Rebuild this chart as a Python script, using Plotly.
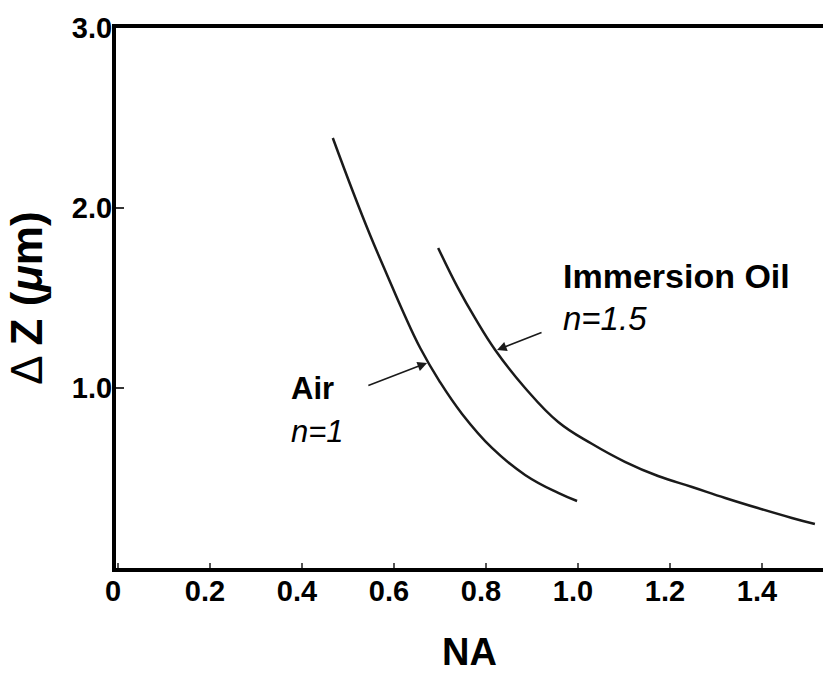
import plotly.graph_objects as go

# ---- data ----
air_na = [0.467, 0.511, 0.548, 0.585, 0.620, 0.657, 0.700, 0.748, 0.813, 0.885, 0.957, 0.998]
air_dz = [2.389, 2.089, 1.850, 1.628, 1.422, 1.222, 1.033, 0.856, 0.667, 0.517, 0.417, 0.372]

oil_na = [0.696, 0.739, 0.776, 0.820, 0.885, 0.957, 1.030, 1.102, 1.174, 1.248, 1.320, 1.391, 1.465, 1.515]
oil_dz = [1.778, 1.556, 1.389, 1.211, 1.000, 0.811, 0.690, 0.590, 0.511, 0.450, 0.389, 0.333, 0.278, 0.244]

x_ticks = [0, 0.2, 0.4, 0.6, 0.8, 1.0, 1.2, 1.4]
x_ticktext = ["<b>%s</b>" % t for t in ["0", "0.2", "0.4", "0.6", "0.8", "1.0", "1.2", "1.4"]]
y_ticks = [1.0, 2.0, 3.0]
y_ticktext = ["<b>%s</b>" % t for t in ["1.0", "2.0", "3.0"]]

FONT = "Liberation Sans, Arial, Helvetica, sans-serif"
LINE = "#1a1a1a"

fig = go.Figure()
fig.add_trace(go.Scatter(x=air_na, y=air_dz, mode="lines", name="Air",
                         line=dict(color=LINE, width=2.5, shape="spline", smoothing=1.2)))
fig.add_trace(go.Scatter(x=oil_na, y=oil_dz, mode="lines", name="Immersion Oil",
                         line=dict(color=LINE, width=2.5, shape="spline", smoothing=1.2)))

annos = [
    dict(x=0.372, y=1.0, text="<b>Air</b>", xanchor="left", yanchor="middle",
         showarrow=False, font=dict(size=31)),
    dict(x=0.372, y=0.76, text="<i>n=1</i>", xanchor="left", yanchor="middle",
         showarrow=False, font=dict(size=31)),
    dict(x=0.963, y=1.62, text="<b>Immersion Oil</b>", xanchor="left", yanchor="middle",
         showarrow=False, font=dict(size=34)),
    dict(x=0.963, y=1.385, text="<i>n=1.5</i>", xanchor="left", yanchor="middle",
         showarrow=False, font=dict(size=33)),
    # arrows
    dict(x=0.672, y=1.139, ax=0.541, ay=1.011, axref="x", ayref="y", text="",
         showarrow=True, arrowhead=2, arrowsize=1.2, arrowwidth=1.6, arrowcolor=LINE),
    dict(x=0.824, y=1.211, ax=0.924, ay=1.311, axref="x", ayref="y", text="",
         showarrow=True, arrowhead=2, arrowsize=1.2, arrowwidth=1.6, arrowcolor=LINE),
]

fig.update_layout(
    width=823, height=673,
    margin=dict(l=116, r=0, t=28, b=105),
    paper_bgcolor="white", plot_bgcolor="white",
    showlegend=False,
    font=dict(family=FONT, color="black"),
    annotations=annos,
    xaxis=dict(
        range=[-0.0043, 1.5326], showgrid=False, zeroline=False,
        showline=True, linewidth=4, linecolor="black", mirror=True,
        ticks="inside", ticklen=5, tickwidth=2, tickcolor="#555",
        tickvals=x_ticks, ticktext=x_ticktext,
        tickfont=dict(size=29, family=FONT), ticklabelshift=-5, ticklabelstandoff=-6,
        title=dict(text="<b>NA</b>", font=dict(size=38, family=FONT), standoff=34),
    ),
    yaxis=dict(
        range=[0, 3.0], showgrid=False, zeroline=False,
        showline=True, linewidth=4, linecolor="black",
        ticks="inside", ticklen=8, tickwidth=2, tickcolor="#333",
        tickvals=y_ticks, ticktext=y_ticktext,
        tickfont=dict(size=29, family=FONT), ticklabelstandoff=-6,
        title=dict(text="Δ <b>Z (<i>μ</i>m)</b>", font=dict(size=44, family=FONT), standoff=16),
    ),
)

fig.write_html("out.html")
